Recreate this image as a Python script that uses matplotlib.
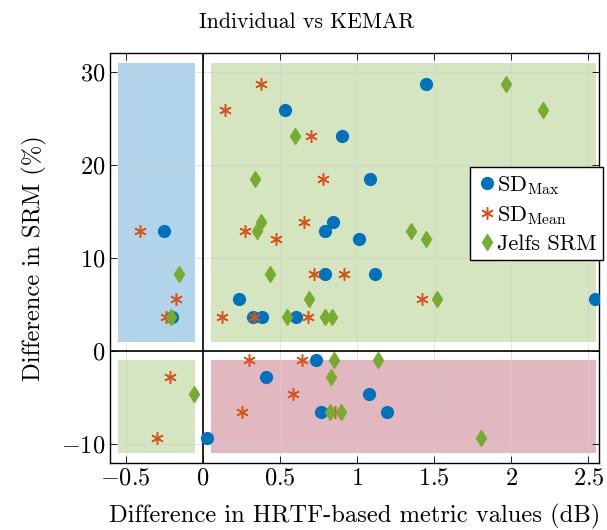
import matplotlib
matplotlib.use("Agg")
import matplotlib.pyplot as plt
from matplotlib.patches import Rectangle

plt.rcParams['font.family'] = 'serif'
plt.rcParams['font.serif'] = ['cmr10']
plt.rcParams['mathtext.fontset'] = 'cm'
plt.rcParams['axes.formatter.use_mathtext'] = True

# SD_Max (circulos)
sdmax_x = [0.535, 0.90, -0.249, 0.842, 0.794, 0.794, 0.232, -0.203, 0.325, 0.381, 0.604,
           1.446, 1.082, 1.015, 1.117, 2.543,
           0.736, 0.407, 1.08, 0.764, 1.197, 0.026]
sdmax_y = [25.9, 23.15, 12.9, 13.9, 12.9, 8.3, 5.55, 3.7, 3.7, 3.7, 3.7,
           28.75, 18.5, 12.0, 8.3, 5.55,
           -0.95, -2.83, -4.66, -6.52, -6.52, -9.32]

# SD_Mean (asteriscos)
sdmean_x = [0.379, 0.143, 0.70, 0.78, -0.41, 0.273, 0.656, 0.474, 0.723, 0.918, -0.173,
            -0.236, 0.121, 0.33, 0.68, 1.418,
            0.297, 0.645, -0.216, 0.584, 0.255, 0.855, -0.297]
sdmean_y = [28.75, 25.9, 23.15, 18.5, 12.9, 12.9, 13.9, 12.0, 8.3, 8.3, 5.55,
            3.7, 3.7, 3.7, 3.7, 5.55,
            -0.95, -0.95, -2.83, -4.66, -6.52, -6.52, -9.32]

# Jelfs SRM (losangos)
jelfs_x = [0.60, 0.335, 0.374, 0.348, -0.156, 0.437, 0.69, -0.208, 0.548, 0.792, 0.835,
           1.968, 2.208, 1.35, 1.446, 1.515,
           0.853, 1.138, 0.833, -0.056, 0.823, 0.894, 1.805]
jelfs_y = [23.15, 18.5, 13.9, 12.9, 8.3, 8.3, 5.55, 3.7, 3.7, 3.7, 3.7,
           28.75, 25.9, 12.9, 12.0, 5.55,
           -0.95, -0.95, -2.83, -4.66, -6.52, -6.52, -9.32]

# regioes de fundo: (x0, x1, y0, y1, cor)
regioes = [(-0.55, -0.05, 1, 31, '#0072BD'),
           (0.05, 2.55, 1, 31, '#77AC30'),
           (-0.55, -0.05, -11, -1, '#77AC30'),
           (0.05, 2.55, -11, -1, '#A2142F')]

xticks = [-0.5, 0, 0.5, 1, 1.5, 2, 2.5]
yticks = [-10, 0, 10, 20, 30]

fig = plt.figure(figsize=(6.07, 5.30), dpi=100)
ax = fig.add_axes([0.1817, 0.127, 0.8056, 0.7724])

for x0, x1, y0, y1, cor in regioes:
    ax.add_patch(Rectangle((x0, y0), x1 - x0, y1 - y0, facecolor=cor,
                           alpha=0.3, edgecolor='none', zorder=0))

ax.axvline(0, color='black', lw=1.2, zorder=1)
ax.axhline(0, color='black', lw=1.2, zorder=1)

ax.plot(sdmax_x, sdmax_y, 'o', color='#0072BD', ms=8.5, ls='none',
        label=r'SD$_{\mathrm{Max}}$', zorder=3)
ax.plot(sdmean_x, sdmean_y, color='#D95319', ms=9, ls='none',
        label=r'SD$_{\mathrm{Mean}}$', zorder=3, marker=(6, 2, 0), mew=1.1)
ax.plot(jelfs_x, jelfs_y, 'd', color='#77AC30', ms=8.5, ls='none',
        label='Jelfs SRM', zorder=3)

ax.set_xlim(-0.6, 2.57)
ax.set_ylim(-12, 32)
ax.set_xticks(xticks)
ax.set_xticklabels([f'${t:g}$' for t in xticks])
ax.set_yticks(yticks)
ax.set_yticklabels([f'${t:g}$' for t in yticks])
ax.tick_params(direction='in', top=True, right=True, labelsize=17.5, length=5, width=0.6)
ax.grid(True, color='#d0d0d0', lw=0.6, alpha=0.7, zorder=0)
ax.set_axisbelow(True)
for s in ax.spines.values():
    s.set_linewidth(1.0)

ax.set_xlabel('Difference in HRTF-based metric values (dB)', fontsize=17.7, labelpad=10)
ax.set_ylabel('Difference in SRM (%)', fontsize=17.7, labelpad=10)
fig.suptitle('Individual vs KEMAR', fontsize=15.7, x=0.506, y=0.977)

leg = ax.legend(loc='upper right', bbox_to_anchor=(1.008, 0.722), fontsize=16,
                fancybox=False, framealpha=1, edgecolor='black', borderpad=0.3,
                handletextpad=0.0, handlelength=0.9, labelspacing=0.33,
                borderaxespad=0, handleheight=0.7)
leg.get_frame().set_linewidth(1.0)

plt.savefig('out.png', dpi=100)
